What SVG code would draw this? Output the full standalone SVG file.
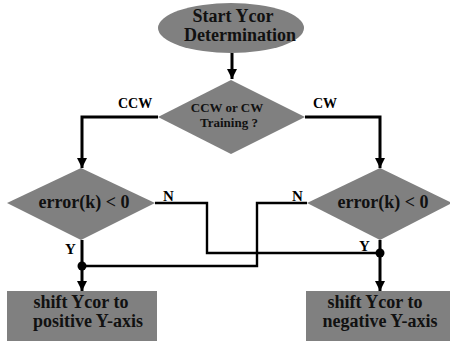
<svg xmlns="http://www.w3.org/2000/svg" width="450" height="343" viewBox="0 0 450 343">
<defs>
<marker id="ah" viewBox="0 0 10 10" refX="10" refY="5" markerWidth="3.6" markerHeight="3.4" orient="auto" markerUnits="strokeWidth">
<path d="M0,0 L10,5 L0,10 z" fill="#000"/>
</marker>
<style>
.shape{fill:#808080;stroke:none}
.t{font-family:"Liberation Serif","Times New Roman",serif;font-weight:bold;fill:#111;text-anchor:middle}
.lbl{font-family:"Liberation Serif","Times New Roman",serif;font-weight:bold;fill:#000}
.thick{fill:none;stroke:#000;stroke-width:3}
.thin{fill:none;stroke:#000;stroke-width:2.4}
</style>
</defs>
<rect width="450" height="343" fill="#fff"/>
<g id="connectors">
<path class="thick" d="M232,53 V79" marker-end="url(#ah)"/>
<path class="thick" d="M158,117 H82 V168" marker-end="url(#ah)"/>
<path class="thick" d="M305,117 H380 V168" marker-end="url(#ah)"/>
<path class="thick" d="M82,240 V291" marker-end="url(#ah)"/>
<path class="thick" d="M380,240 V291" marker-end="url(#ah)"/>
<path class="thin" d="M155,203 H207 V253 H380"/>
<path class="thin" d="M307,203 H257 V266 H82"/>
<circle cx="82" cy="266" r="4.5" fill="#000"/>
<circle cx="380" cy="253" r="4.5" fill="#000"/>
<text class="lbl" x="118" y="108" font-size="14">CCW</text>
<text class="lbl" x="313" y="108" font-size="14">CW</text>
<text class="lbl" x="163" y="201" font-size="15">N</text>
<text class="lbl" x="292" y="201" font-size="15">N</text>
<text class="lbl" x="65" y="254" font-size="15">Y</text>
<text class="lbl" x="359" y="251" font-size="15">Y</text>
</g>
<g id="start">
<ellipse class="shape" cx="231" cy="28" rx="73" ry="25"/>
<text class="t" x="233" y="22" font-size="18">Start Ycor</text>
<text class="t" x="240" y="41" font-size="18">Determination</text>
</g>
<g id="training">
<polygon class="shape" points="231,80 305,117 231,154 158,117"/>
<text class="t" x="227" y="112" font-size="13">CCW or CW</text>
<text class="t" x="229" y="127" font-size="13">Training ?</text>
</g>
<g id="errorLeft">
<polygon class="shape" points="81,168 155,203 81,240 7,203"/>
<text class="t" x="84" y="208" font-size="18">error(k) &lt; 0</text>
</g>
<g id="errorRight">
<polygon class="shape" points="380,168 452,203 380,240 307,203"/>
<text class="t" x="383" y="208" font-size="18">error(k) &lt; 0</text>
</g>
<g id="shiftPositive">
<rect class="shape" x="7" y="291" width="150" height="50"/>
<text class="t" x="81" y="308" font-size="18">shift Ycor to</text>
<text class="t" x="88" y="327" font-size="18">positive Y-axis</text>
</g>
<g id="shiftNegative">
<rect class="shape" x="306" y="291" width="144" height="50"/>
<text class="t" x="375" y="308" font-size="18">shift Ycor to</text>
<text class="t" x="380" y="327" font-size="18">negative Y-axis</text>
</g>
</svg>
